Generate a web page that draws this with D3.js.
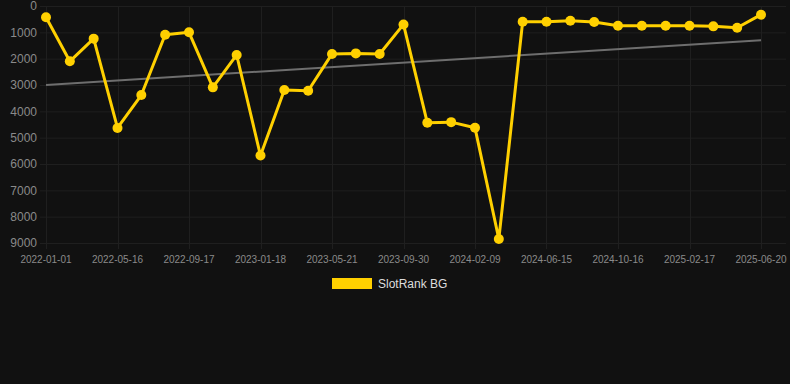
<!DOCTYPE html>
<html>
<head>
<meta charset="utf-8">
<script src="https://cdn.jsdelivr.net/npm/d3@7"></script>
<style>
  html, body { margin: 0; padding: 0; background: #111111; }
  svg { display: block; font-family: Arial, "Liberation Sans", sans-serif; }
</style>
</head>
<body>
<svg id="chart"></svg>
<script>
const WIDTH = 790
const HEIGHT = 384

// dates shown on the axis (every third point carries a label)
const TICK_LABELS = [
    '2022-01-01', '2022-05-16', '2022-09-17', '2023-01-18', '2023-05-21', '2023-09-30',
    '2024-02-09', '2024-06-15', '2024-10-16', '2025-02-17', '2025-06-20'
]
// rank values, one per point
const RANKS = [
    430, 2100, 1240, 4630, 3380, 1090, 1000, 3090, 1860, 5680, 3190,
    3220, 1820, 1800, 1825, 700, 4436, 4410, 4626, 8850, 596,
    596, 558, 608, 748, 748, 748, 748, 773, 824, 330
]
const Y_TICKS = [0, 1000, 2000, 3000, 4000, 5000, 6000, 7000, 8000, 9000]
const SERIES_NAME = 'SlotRank BG'

const COLOR_LINE = '#ffd000'
const COLOR_TREND = '#6e6e6e'
const COLOR_GRID = '#1f1f1f'
const COLOR_TICK = '#8a8a8a'

const svg = d3.select('#chart').attr('width', WIDTH).attr('height', HEIGHT)

const x = d3.scaleLinear().domain([0, RANKS.length - 1]).range([46, 761])
const y = d3.scaleLinear().domain([0, 9000]).range([6, 243])
const gridRight = 786

// horizontal grid + y labels
svg.append('g')
    .selectAll('line')
    .data(Y_TICKS)
    .enter().append('line')
        .attr('x1', 40).attr('x2', gridRight)
        .attr('y1', d => y(d) + 0.5).attr('y2', d => y(d) + 0.5)
        .style('stroke', COLOR_GRID)

svg.append('g')
    .selectAll('text')
    .data(Y_TICKS)
    .enter().append('text')
        .attr('x', 37)
        .attr('y', d => y(d))
        .attr('dy', '0.36em')
        .attr('text-anchor', 'end')
        .attr('fill', COLOR_TICK)
        .style('font-size', '12px')
        .text(d => d)

// vertical grid + x labels (every third index)
const tickIdx = TICK_LABELS.map((_, i) => i * 3)

svg.append('g')
    .selectAll('line')
    .data(tickIdx)
    .enter().append('line')
        .attr('x1', d => Math.round(x(d)) + 0.5).attr('x2', d => Math.round(x(d)) + 0.5)
        .attr('y1', 6).attr('y2', 249)
        .style('stroke', COLOR_GRID)

svg.append('g')
    .selectAll('text')
    .data(tickIdx)
    .enter().append('text')
        .attr('x', d => x(d))
        .attr('y', 263)
        .attr('text-anchor', 'middle')
        .attr('fill', COLOR_TICK)
        .style('font-size', '10px')
        .text((d, i) => TICK_LABELS[i])

// least squares trend over the series
const n = RANKS.length
const meanX = d3.mean(RANKS, (_, i) => i)
const meanY = d3.mean(RANKS)
const slope = d3.sum(RANKS, (v, i) => (i - meanX) * (v - meanY)) / d3.sum(RANKS, (_, i) => (i - meanX) ** 2)
const trend = [0, n - 1].map(i => [i, meanY + slope * (i - meanX)])

svg.append('path')
    .datum(trend)
    .attr('d', d3.line().x(d => x(d[0])).y(d => y(d[1])))
    .style('stroke', COLOR_TREND)
    .style('stroke-width', 2)
    .style('fill', 'none')

// the series
svg.append('path')
    .datum(RANKS)
    .attr('d', d3.line().x((_, i) => x(i)).y(d => y(d)))
    .style('stroke', COLOR_LINE)
    .style('stroke-width', 3)
    .style('stroke-linejoin', 'round')
    .style('fill', 'none')

svg.append('g')
    .selectAll('circle')
    .data(RANKS)
    .enter().append('circle')
        .attr('cx', (_, i) => x(i))
        .attr('cy', d => y(d))
        .attr('r', 5)
        .style('fill', COLOR_LINE)

// legend
const legend = svg.append('g').attr('transform', 'translate(332,278)')
legend.append('rect')
    .attr('width', 40).attr('height', 11)
    .style('fill', COLOR_LINE)
legend.append('text')
    .attr('x', 46).attr('y', 10)
    .attr('fill', '#dddddd')
    .style('font-size', '12px')
    .text(SERIES_NAME)
</script>
</body>
</html>
